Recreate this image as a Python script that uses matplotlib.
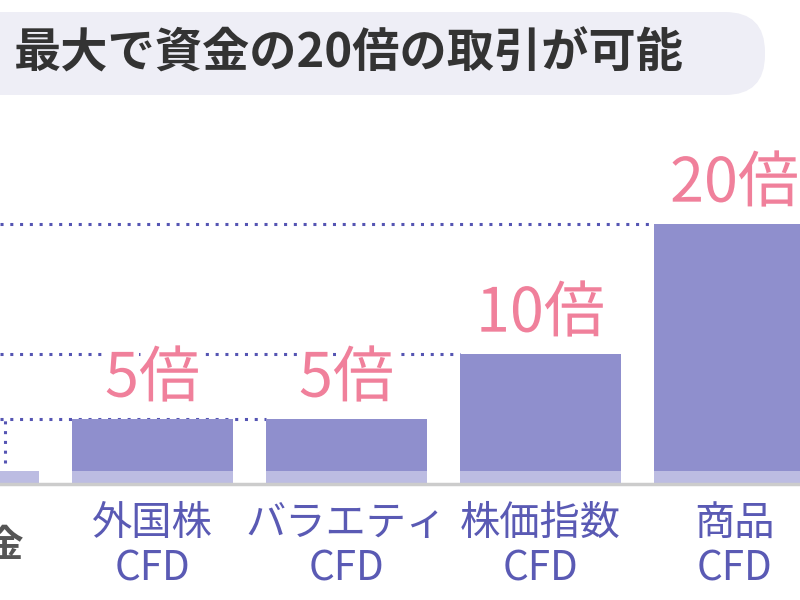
import matplotlib
matplotlib.use("Agg")
import matplotlib.pyplot as plt
import matplotlib.patheffects as pe
from matplotlib.patches import FancyBboxPatch
from matplotlib import transforms

plt.rcParams['font.family'] = ['Noto Sans CJK JP', 'DejaVu Sans']

# data
categories = ['証拠金', '外国株\nCFD', 'バラエティ\nCFD', '株価指数\nCFD', '商品\nCFD']
leverage = [1, 5, 5, 10, 20]
value_labels = ['', '5倍', '5倍', '10倍', '20倍']
own_capital = 1
title = '最大で資金の20倍の取引が可能'

dark_bar = '#8f8fcd'
light_bar = '#bcbce2'
pink = '#f0809b'
navy = '#5555b3'
label_blue = '#5a5ab4'

fig = plt.figure(figsize=(8, 6), dpi=100)
ax = fig.add_axes([0, 116 / 600, 1, 364 / 600])
ax.set_xlim(1 - 152.5 / 194, 1 + 647.5 / 194)
ax.set_ylim(0, 28)
ax.axis('off')

width = 161 / 194
x = list(range(len(categories)))

# light part = own capital, dark = leveraged part
ax.bar(x, [own_capital] * len(x), width=width, color=light_bar, zorder=2)
ax.bar(x[1:], [v - own_capital for v in leverage[1:]], bottom=own_capital,
       width=width, color=dark_bar, zorder=2)

# dotted guide lines to the left of each taller bar
xmin = ax.get_xlim()[0]
dots = (0, (1, 2.2))
for i in [2, 3, 4]:
    ax.hlines(leverage[i], xmin, x[i] - width / 2, colors=navy,
              linestyles=dots, linewidth=2.2, zorder=1)
ax.vlines(x[0] + 0.24, 1.6, leverage[1], colors=navy,
          linestyles=dots, linewidth=2.2, zorder=1)

# value labels
for xi, v, lab in zip(x, leverage, value_labels):
    if lab:
        ax.annotate(lab, (xi, v), xytext=(0, 6), textcoords='offset points',
                    ha='center', va='bottom', fontsize=44, color=pink,
                    zorder=4,
                    path_effects=[pe.withStroke(linewidth=8, foreground='white')])

# baseline
ax.axhline(0, color='#cccccc', linewidth=2.5, zorder=3, clip_on=False)

# category labels
trans = transforms.blended_transform_factory(ax.transData, fig.transFigure)
for xi, cat in zip(x, categories):
    if xi == 0:
        ax.text(xi + 0.05, 1 - 545 / 600, cat, transform=trans, ha='center',
                va='center', fontsize=27, color='#555555', fontweight='bold')
    else:
        ax.text(xi, 1 - 546 / 600, cat, transform=trans, ha='center',
                va='center', fontsize=29, color=label_blue, linespacing=1.15)

# title box
box = FancyBboxPatch((-60 / 800, 1 - 95 / 600), 825 / 800, 83 / 600,
                     boxstyle='round,pad=0,rounding_size=0.05',
                     transform=fig.transFigure, facecolor='#eeeef6',
                     edgecolor='none', mutation_aspect=800 / 600)
fig.patches.append(box)
fig.text(14 / 800, 1 - 54 / 600, title, ha='left', va='center', fontsize=34,
         fontweight='bold', color='#333333')

fig.savefig('out.png', dpi=100)
